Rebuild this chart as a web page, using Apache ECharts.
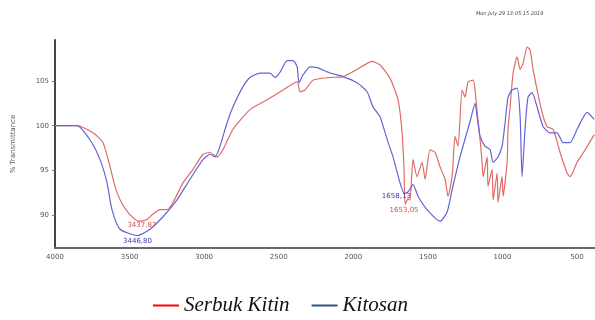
<!DOCTYPE html>
<html><head><meta charset="utf-8">
<script src="https://cdn.jsdelivr.net/npm/echarts@6/dist/echarts.min.js"></script>
<style>html,body{margin:0;padding:0;background:#fff}#c{width:595px;height:320px}</style>
</head><body><div id="c"></div>
<script>
const xTicks = [4000, 3500, 3000, 2500, 2000, 1500, 1000, 500];
const yTicks = [90, 95, 100, 105];
const seriesNames = ['Serbuk Kitin', 'Kitosan'];

const kitinWn = [4000,3852,3745,3678,3631,3598,3564,3511,3438,3383,3343,3296,3249,3209,3142,3075,3008,2961,2914,2874,2807,2693,2579,2471,2377,2357,2324,2270,2156,2069,1975,1875,1821,1754,1700,1673,1660,1653,1633,1620,1600,1573,1539,1519,1486,1452,1419,1385,1365,1338,1318,1298,1271,1251,1231,1197,1184,1170,1150,1137,1130,1103,1097,1070,1063,1036,1030,1003,996,969,963,949,929,902,882,862,835,815,795,768,735,701,661,614,567,547,500,446,385];
const kitinT = [100,100,99.2,98.1,95.4,93.2,91.7,90.3,89.3,89.5,90.1,90.6,90.6,91.4,93.6,95.1,96.8,97,96.5,97.3,99.6,101.8,102.9,104,104.9,103.8,104,105.1,105.4,105.5,106.3,107.2,106.8,105.3,102.9,99.2,95,91.2,91.8,91.7,96.2,94.3,95.9,94,97.3,97,95.4,94,92.1,94.3,98.8,97.7,104,103.2,104.9,105.1,104,101.5,98.4,95.9,94.3,96.5,93.2,95.1,91.7,94.7,91.4,94.3,92.1,95.9,99.6,102.1,105.9,107.7,106.3,107,108.8,108.5,106.3,104,101.5,99.9,99.6,97,94.7,94.3,95.9,97.3,99];

const kitosanWn = [4000,3852,3765,3698,3651,3618,3564,3447,3363,3276,3182,3095,3008,2961,2927,2894,2847,2807,2739,2693,2625,2558,2525,2491,2444,2404,2377,2364,2337,2290,2243,2156,2069,1975,1908,1868,1821,1774,1734,1687,1658,1633,1600,1566,1506,1419,1372,1338,1285,1217,1184,1170,1150,1117,1083,1063,1030,1003,983,963,936,902,882,869,849,829,802,768,728,681,634,594,547,500,433,385];
const kitosanT = [100,100,98.4,96.2,93.6,90.6,88.4,87.7,88.4,89.8,91.7,94,96.2,96.8,96.5,97.7,100.3,102.1,104.4,105.4,105.9,105.9,105.4,106,107.3,107.3,106.6,104.8,105.7,106.6,106.5,105.9,105.5,104.8,103.8,102.1,101,98.5,96.5,93.6,92.4,92.6,93.4,92.1,90.6,89.3,90.3,92.8,96.5,100.5,102.5,101,98.8,97.7,97.3,95.9,96.5,97.7,100.3,103.2,104,104.2,101,94.3,99.6,103.2,103.7,102.1,99.9,99.2,99.2,98.1,98.1,99.6,101.5,100.7];

const kitinPeaks = [{wn: 3437.87, t: 89.3, text: '3437,87', off: [3, 4]}, {wn: 1653.05, t: 91.2, text: '1653,05', off: [-1, 6]}];
const kitosanPeaks = [{wn: 3446.8, t: 87.7, text: '3446,80', off: [0, 6]}, {wn: 1658.13, t: 92.4, text: '1658,13', off: [-8, 3]}];

function zip(a, b) { return a.map((v, i) => [v, b[i]]); }
function marks(list, color) {
  return {
    symbol: 'circle', symbolSize: 0, silent: true,
    data: list.map(p => ({
      coord: [p.wn, p.t], value: p.text,
      label: {show: true, position: 'inside', offset: p.off, formatter: p.text, color: color, fontSize: 7, fontFamily: 'DejaVu Sans'}
    }))
  };
}

const chart = echarts.init(document.getElementById('c'), null, {renderer: 'canvas'});
chart.setOption({
  animation: false,
  backgroundColor: '#fff',
  grid: {left: 55, right: 0, top: 40, bottom: 72, containLabel: false},
  graphic: [{type: 'text', left: 476, top: 11, style: {text: 'Mon July 29 13:05:15 2019', fontSize: 5, fontStyle: 'italic', fill: '#444', fontFamily: 'DejaVu Sans'}}],
  legend: {
    top: 290, left: 148, itemWidth: 26, itemHeight: 2, itemGap: 22, icon: 'rect',
    textStyle: {fontFamily: 'Liberation Serif', fontStyle: 'italic', fontSize: 21, color: '#111'},
    data: [
      {name: seriesNames[0], itemStyle: {color: '#ff0000'}},
      {name: seriesNames[1], itemStyle: {color: '#2f5286'}}
    ]
  },
  xAxis: {
    type: 'value', inverse: true, min: 380, max: 4000,
    axisLine: {show: true, onZero: false, lineStyle: {color: '#6a6a6a', width: 2}},
    axisTick: {show: false},
    splitLine: {show: false},
    axisLabel: {customValues: xTicks, formatter: v => String(v), fontSize: 7, color: '#555', margin: 6, fontFamily: 'DejaVu Sans'}
  },
  yAxis: {
    type: 'value', min: 86.3, max: 109.6,
    name: '% Transmittance', nameLocation: 'middle', nameGap: 38, nameRotate: 90,
    nameTextStyle: {fontSize: 7, color: '#555', fontFamily: 'DejaVu Sans'},
    axisLine: {show: true, lineStyle: {color: '#444', width: 2}},
    axisTick: {show: true, customValues: yTicks, length: 3, lineStyle: {color: '#777'}},
    splitLine: {show: false},
    axisLabel: {customValues: yTicks, formatter: v => String(v), fontSize: 7, color: '#555', margin: 6, fontFamily: 'DejaVu Sans'}
  },
  series: [
    {name: seriesNames[0], type: 'line', data: zip(kitinWn, kitinT), showSymbol: false, smooth: 0.2,
     lineStyle: {color: '#e06a66', width: 1.2}, itemStyle: {color: '#e06a66'}, markPoint: marks(kitinPeaks, '#d05050')},
    {name: seriesNames[1], type: 'line', data: zip(kitosanWn, kitosanT), showSymbol: false, smooth: 0.2,
     lineStyle: {color: '#6464d4', width: 1.2}, itemStyle: {color: '#6464d4'}, markPoint: marks(kitosanPeaks, '#3a3aa8')}
  ]
});
</script></body></html>
